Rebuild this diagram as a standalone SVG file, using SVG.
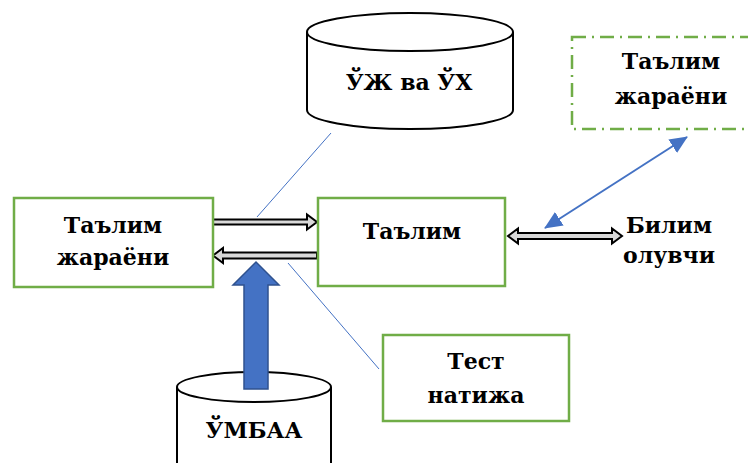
<svg xmlns="http://www.w3.org/2000/svg" width="748" height="463" viewBox="0 0 748 463">
<defs>
<style>
.box{fill:#fff;stroke:#70AD47;stroke-width:2.5}
.dbox{fill:#fff;stroke:#70AD47;stroke-width:2.5;stroke-dasharray:14 6 2 6}
.cyl{fill:#fff;stroke:#000;stroke-width:2}
.t{font-family:"DejaVu Serif","Liberation Serif",serif;font-weight:bold;font-size:22px;fill:#000;text-anchor:middle}
.thin{stroke:#4472C4;stroke-width:1;fill:none}
.blk{fill:#D9D9D9;stroke:#000;stroke-width:2;stroke-linejoin:miter}
.blue{stroke:#4472C4;stroke-width:2;fill:none}
</style>
<marker id="bh2" viewBox="0 0 18 16" refX="17" refY="8" markerWidth="18" markerHeight="16" orient="auto-start-reverse" markerUnits="userSpaceOnUse">
<path d="M0,0 L18,8 L0,16 z" fill="#4472C4"/>
</marker>
</defs>

<g id="connectors">
<line class="thin" x1="331" y1="133" x2="257" y2="217"/>
<line class="thin" x1="288" y1="263" x2="379" y2="369"/>
<line class="blue" x1="545" y1="228" x2="687" y2="137" marker-start="url(#bh2)" marker-end="url(#bh2)"/>
<polygon class="blk" points="213,219.5 307,219.5 307,214.5 317,222 307,229.5 307,224.5 213,224.5"/>
<polygon class="blk" points="317,252.5 223,252.5 223,248 213,255.5 223,263 223,258.5 317,258.5"/>
<polygon class="blk" points="508,236 518,228.5 518,233 612,233 612,228.5 622,236 612,243.5 612,239 518,239 518,243.5"/>
</g>

<g id="node-uzh">
<path class="cyl" d="M307,32 L307,110 A103,19 0 0 0 513,110 L513,32"/>
<ellipse class="cyl" cx="410" cy="32" rx="103" ry="19"/>
<text class="t" x="409" y="90">ЎЖ ва ЎХ</text>
</g>

<g id="node-left">
<rect class="box" x="14" y="198" width="199" height="89"/>
<text class="t" x="113" y="233">Таълим</text>
<text class="t" x="113" y="265">жараёни</text>
</g>

<g id="node-center">
<rect class="box" x="318" y="198" width="187" height="88"/>
<text class="t" x="412" y="239">Таълим</text>
</g>

<g id="node-dashed">
<rect class="dbox" x="572" y="37" width="190" height="92"/>
<text class="t" x="671" y="69">Таълим</text>
<text class="t" x="671" y="104">жараёни</text>
</g>

<g id="node-bilim">
<text class="t" x="669" y="233">Билим</text>
<text class="t" x="669" y="263">олувчи</text>
</g>

<g id="node-test">
<rect class="box" x="383" y="335" width="186" height="86"/>
<text class="t" x="476" y="369">Тест</text>
<text class="t" x="476" y="403">натижа</text>
</g>

<g id="node-umbaa">
<path class="cyl" d="M177,387 L177,470 L331,470 L331,387"/>
<ellipse class="cyl" cx="254" cy="387" rx="77" ry="15"/>
<text class="t" x="254" y="438">ЎМБАА</text>
</g>

<g id="blue-arrow">
<polygon points="244,389 244,285 233,285 256,262 279,285 268,285 268,389" fill="#4472C4" stroke="#2F528F" stroke-width="1.5"/>
</g>
</svg>
